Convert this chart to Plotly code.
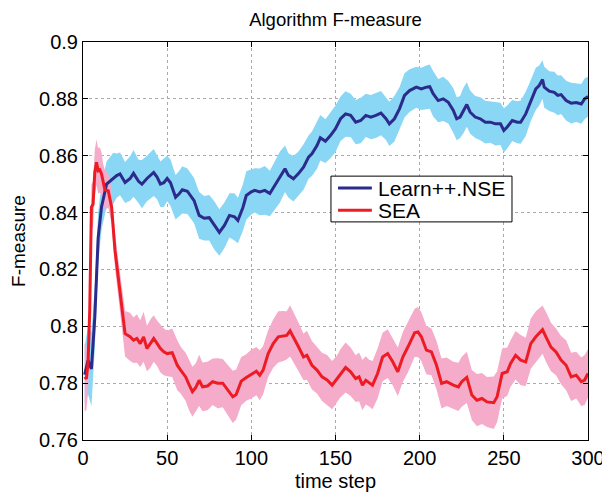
import numpy as np
import plotly.graph_objects as go

# time steps and values
nse_t = [1, 3, 5, 7, 9, 11, 14, 16, 18, 20,
         22, 25, 28, 30, 33, 35, 38, 42, 44, 46,
         48, 50, 52, 55, 57, 59, 62, 66, 69, 72,
         75, 78, 81, 84, 87, 90, 92, 95, 97, 100,
         102, 105, 108, 111, 114, 117, 120, 122, 125, 128,
         131, 134, 136, 139, 141, 144, 147, 150, 153, 156,
         159, 162, 165, 168, 171, 174, 177, 180, 182, 185,
         188, 191, 194, 198, 201, 204, 206, 208, 211, 214,
         217, 220, 222, 224, 226, 228, 230, 233, 236, 239,
         242, 245, 248, 250, 252, 255, 258, 260, 263, 266,
         269, 271, 273, 274, 277, 280, 282, 284, 287, 290,
         293, 296, 298, 300]
nse_mean = [0.783, 0.788, 0.785, 0.803, 0.831, 0.842, 0.850, 0.851, 0.852, 0.853,
            0.8536, 0.8506, 0.852, 0.8538, 0.851, 0.850, 0.852, 0.8541, 0.8525, 0.850,
            0.8505, 0.852, 0.8505, 0.8454, 0.8465, 0.848, 0.8475, 0.8442, 0.839, 0.838,
            0.8382, 0.8355, 0.833, 0.8355, 0.839, 0.8385, 0.8372, 0.8418, 0.846, 0.8473,
            0.8478, 0.8473, 0.8478, 0.8467, 0.8496, 0.8525, 0.8554, 0.8531, 0.8519, 0.8537,
            0.856, 0.8595, 0.8607, 0.8636, 0.8663, 0.8651, 0.8671, 0.8695, 0.873, 0.8747,
            0.8742, 0.8718, 0.8724, 0.8742, 0.8736, 0.8742, 0.875, 0.873, 0.8712, 0.873,
            0.8765, 0.8812, 0.8829, 0.8841, 0.8835, 0.8841, 0.8843, 0.8818, 0.8794, 0.88,
            0.8788, 0.8759, 0.873, 0.8736, 0.8759, 0.878, 0.8753, 0.8736, 0.873, 0.8718,
            0.8718, 0.8712, 0.8712, 0.8689, 0.8701, 0.8724, 0.8718, 0.8718, 0.8747, 0.8794,
            0.8835, 0.8847, 0.8868, 0.8841, 0.8827, 0.8823, 0.8812, 0.8815, 0.8794, 0.8785,
            0.8787, 0.8782, 0.88, 0.8808]
nse_spread = [0.010, 0.012, 0.013, 0.011, 0.009, 0.008, 0.008, 0.0085, 0.009, 0.0078,
              0.0075, 0.0072, 0.0078, 0.0082, 0.0076, 0.0085, 0.0080, 0.0083, 0.0078, 0.0080,
              0.0085, 0.0080, 0.0082, 0.0078, 0.0080, 0.0083, 0.0080, 0.0080, 0.0082, 0.0078,
              0.0080, 0.0085, 0.0082, 0.0080, 0.0078, 0.0083, 0.0080, 0.0082, 0.0085, 0.0080,
              0.0078, 0.0082, 0.0086, 0.0080, 0.0085, 0.0090, 0.0082, 0.0078, 0.0080, 0.0078,
              0.0080, 0.0076, 0.0078, 0.0082, 0.0080, 0.0077, 0.0080, 0.0082, 0.0078, 0.0080,
              0.0076, 0.0078, 0.0080, 0.0076, 0.0078, 0.0080, 0.0078, 0.0075, 0.0078, 0.0080,
              0.0076, 0.0078, 0.0075, 0.0072, 0.0074, 0.0076, 0.0078, 0.0080, 0.0076, 0.0078,
              0.0075, 0.0078, 0.0076, 0.0074, 0.0080, 0.0078, 0.0076, 0.0074, 0.0076, 0.0075,
              0.0072, 0.0076, 0.0074, 0.0078, 0.0076, 0.0072, 0.0074, 0.0076, 0.0078, 0.0072,
              0.0074, 0.0070, 0.0068, 0.0072, 0.0070, 0.0072, 0.0070, 0.0068, 0.0070, 0.0072,
              0.0068, 0.0070, 0.0072, 0.0070]

sea_t = [1, 2, 3, 4, 5, 6, 7, 8, 9, 10,
         11, 12, 13, 15, 17, 19, 21, 23, 25, 28,
         30, 32, 34, 36, 38, 40, 42, 44, 46, 48,
         50, 53, 56, 58, 61, 63, 65, 67, 69, 71,
         74, 77, 80, 83, 86, 89, 91, 94, 97, 100,
         103, 105, 107, 110, 113, 116, 119, 121, 123, 125,
         128, 131, 133, 136, 139, 142, 145, 148, 151, 153,
         156, 159, 162, 164, 166, 168, 170, 172, 175, 178,
         181, 184, 187, 190, 193, 195, 197, 199, 201, 204,
         207, 210, 213, 216, 220, 223, 225, 228, 231, 234,
         237, 240, 244, 246, 249, 252, 254, 257, 260, 263,
         266, 269, 271, 273, 275, 278, 281, 284, 287, 290,
         293, 296, 298, 300]
sea_mean = [0.7822, 0.7815, 0.787, 0.8056, 0.8419, 0.843, 0.8541, 0.8577, 0.8547, 0.855,
            0.8536, 0.850, 0.848, 0.8477, 0.8419, 0.8267, 0.8173, 0.8068, 0.7974, 0.7963,
            0.7951, 0.7957, 0.7939, 0.7963, 0.7922, 0.7939, 0.7957, 0.7940, 0.7922, 0.7910,
            0.7904, 0.7907, 0.7863, 0.7846, 0.7822, 0.7795, 0.777, 0.7785, 0.781, 0.7787,
            0.779, 0.7805, 0.780, 0.780, 0.7775, 0.7752, 0.776, 0.7807, 0.7820, 0.7832,
            0.7842, 0.7828, 0.7846, 0.7904, 0.7939, 0.7963, 0.7966, 0.7968, 0.7984, 0.7963,
            0.7928, 0.7892, 0.7898, 0.7863, 0.7846, 0.7822, 0.7811, 0.7793, 0.7816, 0.7835,
            0.7855, 0.784, 0.7816, 0.7822, 0.7793, 0.781, 0.780, 0.7793, 0.7834, 0.7892,
            0.7904, 0.7875, 0.784, 0.7892, 0.7927, 0.7951, 0.7977, 0.798, 0.7963, 0.7916,
            0.791, 0.7863, 0.7799, 0.7805, 0.7793, 0.7787, 0.7805, 0.782, 0.7758, 0.774,
            0.7746, 0.7734, 0.7731, 0.7752, 0.7834, 0.784, 0.7869, 0.7898, 0.7881, 0.7875,
            0.7939, 0.7963, 0.7974, 0.7988, 0.7963, 0.7927, 0.791, 0.7881, 0.7863, 0.7822,
            0.7828, 0.7805, 0.7811, 0.7834]
sea_spread = [0.012, 0.011, 0.010, 0.009, 0.008, 0.008, 0.008, 0.008, 0.008, 0.008,
              0.0075, 0.007, 0.007, 0.006, 0.006, 0.006, 0.006, 0.007, 0.008, 0.0085,
              0.0080, 0.0085, 0.0082, 0.0088, 0.0080, 0.0085, 0.0082, 0.0080, 0.0085, 0.0082,
              0.0080, 0.0085, 0.0088, 0.0082, 0.0085, 0.0090, 0.0088, 0.0085, 0.0090, 0.0086,
              0.0085, 0.0082, 0.0088, 0.0085, 0.0090, 0.0092, 0.0088, 0.0085, 0.0082, 0.0086,
              0.0085, 0.0088, 0.0085, 0.0082, 0.0085, 0.0090, 0.0088, 0.0085, 0.0090, 0.0088,
              0.0085, 0.0082, 0.0086, 0.0085, 0.0082, 0.0085, 0.0088, 0.0085, 0.0082, 0.0085,
              0.0088, 0.0085, 0.0082, 0.0086, 0.0088, 0.0085, 0.0082, 0.0085, 0.0088, 0.0085,
              0.0086, 0.0082, 0.0085, 0.0088, 0.0090, 0.0088, 0.0085, 0.0088, 0.0086, 0.0085,
              0.0082, 0.0085, 0.0088, 0.0085, 0.0082, 0.0085, 0.0088, 0.0090, 0.0088, 0.0092,
              0.0090, 0.0088, 0.0092, 0.0090, 0.0088, 0.0085, 0.0082, 0.0085, 0.0088, 0.0085,
              0.0088, 0.0090, 0.0088, 0.0085, 0.0088, 0.0085, 0.0082, 0.0085, 0.0088, 0.0085,
              0.0082, 0.0085, 0.0088, 0.0085]

series_names = ["Learn++.NSE", "SEA"]
y_ticks = [0.76, 0.78, 0.8, 0.82, 0.84, 0.86, 0.88, 0.9]
x_ticks = [0, 50, 100, 150, 200, 250, 300]

FONT = "Liberation Sans, Arial, sans-serif"
NSE_LINE = "rgb(43,43,140)"
SEA_LINE = "rgb(237,28,36)"


def band(t, mean, spread, color):
    mean = np.array(mean)
    spread = np.array(spread)
    lower = go.Scatter(x=t, y=mean - spread, mode="lines", line=dict(width=0),
                       showlegend=False, hoverinfo="skip")
    upper = go.Scatter(x=t, y=mean + spread, mode="lines", line=dict(width=0),
                       fill="tonexty", fillcolor=color, showlegend=False, hoverinfo="skip")
    return [lower, upper]


fig = go.Figure()
for tr in band(nse_t, nse_mean, nse_spread, "rgb(138,214,245)"):
    fig.add_trace(tr)
for tr in band(sea_t, sea_mean, sea_spread, "rgb(244,172,202)"):
    fig.add_trace(tr)

fig.add_trace(go.Scatter(x=nse_t, y=nse_mean, mode="lines", name=series_names[0],
                         line=dict(color=NSE_LINE, width=3), showlegend=False))
fig.add_trace(go.Scatter(x=sea_t, y=sea_mean, mode="lines", name=series_names[1],
                         line=dict(color=SEA_LINE, width=3), showlegend=False))

# MATLAB-style legend box drawn in paper coordinates
fig.add_shape(type="rect", xref="paper", yref="paper", x0=0.491, x1=0.8495,
              y0=0.548, y1=0.663, line=dict(color="black", width=1), fillcolor="white",
              layer="above")
for i, (name, col) in enumerate(zip(series_names, [NSE_LINE, SEA_LINE])):
    yy = 0.633 - i * 0.056
    fig.add_shape(type="line", xref="paper", yref="paper", x0=0.505, x1=0.572,
                  y0=yy, y1=yy, line=dict(color=col, width=3), layer="above")
    fig.add_annotation(xref="paper", yref="paper", x=0.580, y=yy, text=name,
                       showarrow=False, xanchor="left", yanchor="middle",
                       font=dict(size=21, family=FONT, color="black"))

axis_style = dict(showline=True, linecolor="black", linewidth=1, mirror="ticks",
                  ticks="inside", ticklen=5, tickcolor="black", automargin=False,
                  ticklabeloverflow="allow",
                  showgrid=True, gridcolor="rgb(170,170,170)", griddash="dot", gridwidth=1,
                  zeroline=False, tickfont=dict(size=20, color="black", family=FONT))

fig.update_xaxes(range=[0, 300], tickvals=x_ticks,
                 title=dict(text="time step", font=dict(size=20, family=FONT, color="black"),
                            standoff=5),
                 **axis_style)
fig.update_yaxes(range=[0.76, 0.9], tickvals=y_ticks,
                 ticktext=[f"{v:g}" for v in y_ticks],
                 title=dict(text="F-measure", font=dict(size=19, family=FONT, color="black"),
                            standoff=9),
                 **axis_style)

# page body has an 8px margin, so the figure origin sits 8px in from the window corner
fig.update_layout(
    width=602, height=485,
    margin=dict(l=75, r=22, t=34, b=53),
    plot_bgcolor="white", paper_bgcolor="white",
    showlegend=False,
    title=dict(text="Algorithm F-measure", xref="paper", x=0.5, xanchor="center",
               yref="container", y=1 - 12 / 485, yanchor="middle",
               font=dict(size=18.5, family=FONT, color="black")),
    font=dict(family=FONT),
)

fig.write_html("out.html")
